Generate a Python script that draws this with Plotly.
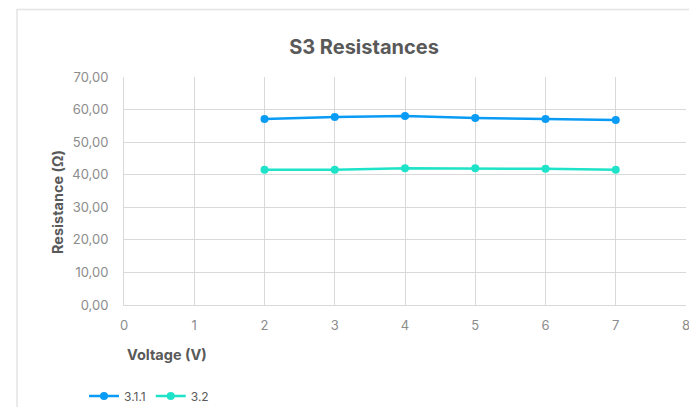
import plotly.graph_objects as go

VOLTAGE = [2, 3, 4, 5, 6, 7]
R_311 = [57.1, 57.7, 58.0, 57.4, 57.1, 56.8]
R_32 = [41.5, 41.5, 42.0, 42.0, 41.8, 41.5]
SERIES = [("3.1.1", R_311, "#0A9CF5"), ("3.2", R_32, "#1FE3C8")]

GRID = "#D9D9D9"
TICK = "#8C8C8C"
DARK = "#595959"
FONT = "Inter, Roboto, sans-serif"

# window is 697x407; the page body adds an 8px offset
OFF = 8
W, H = 697, 407
L, R, T, B = 124, 11, 77, 102
PW, PH = W - L - R, H - T - B
FW, FH = W - OFF, H


def px_x(x):
    return (x - L) / PW


def px_y(y):
    return (H - B - y) / PH


fig = go.Figure()
for name, values, color in SERIES:
    fig.add_trace(go.Scatter(
        x=VOLTAGE, y=values, name=name, mode="lines+markers",
        line={"color": color, "width": 2.5},
        marker={"color": color, "size": 8},
    ))

fig.update_layout(
    width=FW, height=FH,
    margin={"l": L - OFF, "r": R, "t": T - OFF, "b": B + OFF, "autoexpand": False},
    paper_bgcolor="white", plot_bgcolor="white",
    font={"family": FONT, "color": TICK, "size": 13},
    separators=",.",
    title={"text": "<b>S3 Resistances</b>", "x": (364 - OFF) / FW,
           "xanchor": "center", "y": 1 - (47 - OFF) / FH,
           "yanchor": "middle",
           "font": {"size": 20, "color": DARK, "family": FONT}},
    showlegend=True,
    legend={"orientation": "h", "xref": "container", "yref": "container",
            "x": (84 - OFF) / FW, "xanchor": "left",
            "y": 1 - (396 - OFF) / FH, "yanchor": "middle",
            "font": {"size": 12, "color": DARK}, "tracegroupgap": 0},
    shapes=[{"type": "rect", "xref": "paper", "yref": "paper",
             "x0": px_x(17), "x1": px_x(720), "y0": px_y(430), "y1": px_y(9.5),
             "line": {"color": "#E3E3E3", "width": 1.5}, "layer": "below"}],
    annotations=[
        {"text": "<b>Resistance (Ω)</b>", "xref": "paper", "yref": "paper",
         "x": px_x(57), "xanchor": "center", "y": px_y(202), "yanchor": "middle",
         "textangle": -90, "showarrow": False,
         "font": {"size": 14.5, "color": DARK}},
        {"text": "<b>Voltage (V)</b>", "xref": "paper", "yref": "paper",
         "x": px_x(125), "xanchor": "left", "y": px_y(354), "yanchor": "middle",
         "showarrow": False, "font": {"size": 14.5, "color": DARK}},
    ],
)
fig.update_xaxes(range=[0, 8], dtick=1, showgrid=True, gridcolor=GRID,
                 showline=True, linecolor=GRID, zeroline=False,
                 ticks="", ticklabelstandoff=8)
fig.update_yaxes(range=[0, 70], dtick=10, tickformat=".2f", showgrid=True,
                 gridcolor=GRID, showline=True, linecolor=GRID, zeroline=False,
                 ticks="", ticklabelstandoff=12)

fig.write_html("out.html")
